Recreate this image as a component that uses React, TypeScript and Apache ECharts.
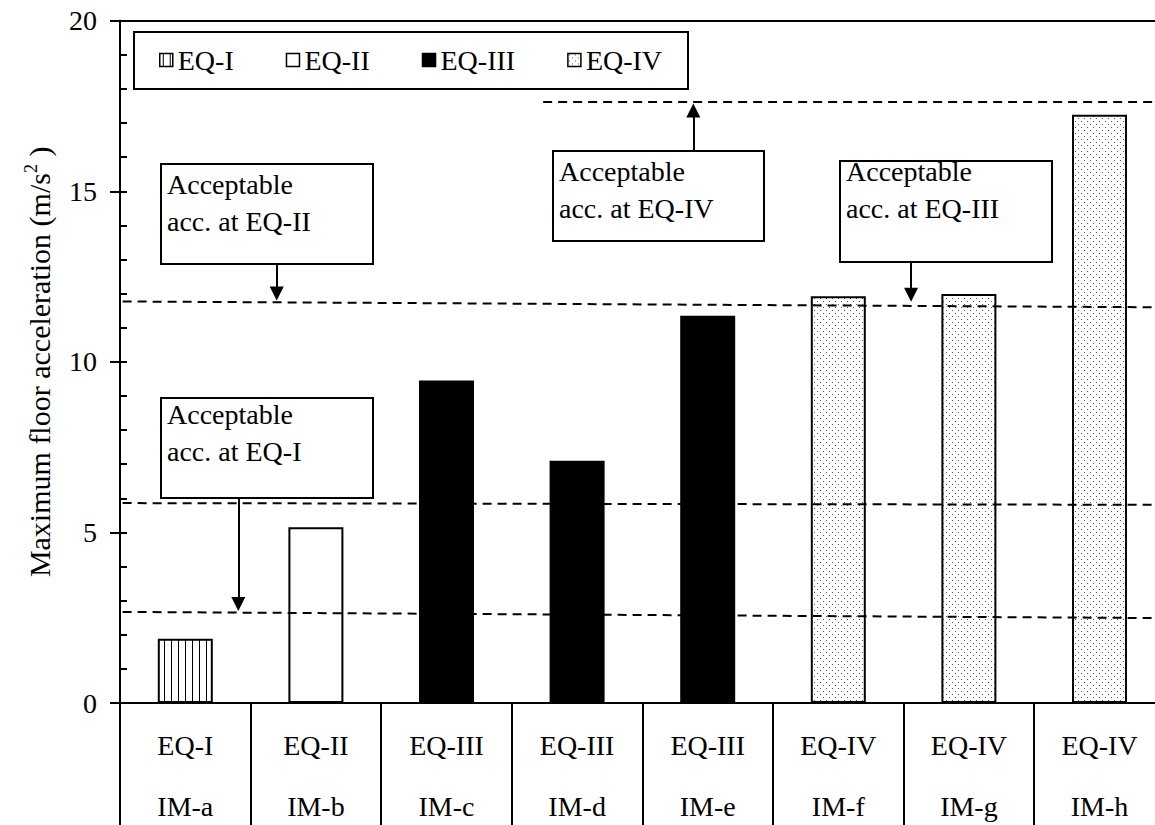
import React, { useEffect, useRef } from 'react';
import * as echarts from 'echarts';

// ---------- data ----------
const imLabels = ['IM-a', 'IM-b', 'IM-c', 'IM-d', 'IM-e', 'IM-f', 'IM-g', 'IM-h'];
const eqLabels = ['EQ-I', 'EQ-II', 'EQ-III', 'EQ-III', 'EQ-III', 'EQ-IV', 'EQ-IV', 'EQ-IV'];
const accValues = [1.88, 5.15, 9.45, 7.1, 11.35, 11.92, 11.99, 17.24];
const levels = ['EQ-I', 'EQ-II', 'EQ-III', 'EQ-IV'];

// acceptable-acceleration limits: [position along the 8 categories, value]
const limitEQI = [[0.02, 2.67], [7.93, 2.49]];
const limitEQII = [[0.02, 5.86], [7.93, 5.81]];
const limitEQIII = [[0.02, 11.77], [7.93, 11.6]];
const limitEQIV = [[3.24, 17.62], [7.93, 17.62]];

// arrows from the note boxes to the limit lines
const arrowEQI = [[0.906, 6.01], [0.906, 2.9]];
const arrowEQII = [[1.2, 12.87], [1.2, 12.0]];
const arrowEQIII = [[6.057, 12.93], [6.057, 11.97]];
const arrowEQIV = [[4.39, 16.2], [4.39, 17.37]];

const noteTexts = ['Acceptable\nacc. at EQ-I', 'Acceptable\nacc. at EQ-II', 'Acceptable\nacc. at EQ-III', 'Acceptable\nacc. at EQ-IV'];

const FONT = '"Liberation Serif", "Times New Roman", serif';

function makeStripe() {
  const c = document.createElement('canvas');
  c.width = 7;
  c.height = 7;
  const ctx = c.getContext('2d')!;
  ctx.fillStyle = '#fff';
  ctx.fillRect(0, 0, 7, 7);
  ctx.fillStyle = '#000';
  ctx.fillRect(3, 0, 1, 7);
  return c;
}

function makeDots() {
  const c = document.createElement('canvas');
  c.width = 6;
  c.height = 6;
  const ctx = c.getContext('2d')!;
  ctx.fillStyle = '#fff';
  ctx.fillRect(0, 0, 6, 6);
  ctx.fillStyle = '#555';
  ctx.fillRect(1, 1, 1, 1);
  ctx.fillRect(4, 4, 1, 1);
  return c;
}

export default function App() {
  const ref = useRef<HTMLDivElement>(null);

  useEffect(() => {
    if (!ref.current) return;
    const chart = echarts.init(ref.current, null, { renderer: 'svg' });

    const fills: Record<string, any> = {
      'EQ-I': { image: makeStripe(), repeat: 'repeat', imageWidth: 7, imageHeight: 7 },
      'EQ-II': '#ffffff',
      'EQ-III': '#000000',
      'EQ-IV': { image: makeDots(), repeat: 'repeat', imageWidth: 6, imageHeight: 6 },
    };

    const barSeries = levels.map((lv) => ({
      name: lv,
      type: 'bar',
      xAxisIndex: 0,
      yAxisIndex: 0,
      barWidth: 55,
      barGap: '-100%',
      data: accValues.map((v, i) => (eqLabels[i] === lv ? v : '-')),
      itemStyle: { color: fills[lv], borderColor: '#000', borderWidth: 2 },
      silent: true,
    }));

    const limitSeries = [limitEQI, limitEQII, limitEQIII, limitEQIV].map((d, i) => ({
      name: 'limit' + i,
      type: 'line',
      xAxisIndex: 1,
      yAxisIndex: 0,
      data: d,
      symbol: 'none',
      silent: true,
      lineStyle: { color: '#000', width: 2, type: [9, 6] },
      z: 3,
    }));

    const arrowSeries = {
      name: 'arrows',
      type: 'lines',
      coordinateSystem: 'cartesian2d',
      xAxisIndex: 1,
      yAxisIndex: 0,
      symbol: ['none', 'triangle'],
      symbolSize: [15, 14],
      silent: true,
      lineStyle: { color: '#000', width: 2, opacity: 1, curveness: 0 },
      data: [arrowEQI, arrowEQII, arrowEQIII, arrowEQIV].map((a) => ({ coords: a })),
      z: 4,
    };

    const boxes = [
      { x: 161, y: 398, w: 212, h: 100, t: noteTexts[0], dy: -2 },
      { x: 161, y: 164, w: 212, h: 100, t: noteTexts[1], dy: 2 },
      { x: 840, y: 161, w: 212, h: 101, t: noteTexts[2], dy: -8 },
      { x: 553, y: 151, w: 211, h: 90, t: noteTexts[3], dy: 2 },
    ];

    const graphics: any[] = [
      {
        type: 'rect',
        shape: { x: 134, y: 32, width: 554, height: 57 },
        style: { fill: 'none', stroke: '#000', lineWidth: 2 },
        z: 10,
        silent: true,
      },
    ];
    boxes.forEach((b) => {
      graphics.push({
        type: 'rect',
        shape: { x: b.x, y: b.y, width: b.w, height: b.h },
        style: { fill: '#fff', stroke: '#000', lineWidth: 2 },
        z: 10,
        silent: true,
      });
      graphics.push({
        type: 'text',
        x: b.x + 6,
        y: b.y + b.dy,
        style: {
          text: b.t,
          font: `28px ${FONT}`,
          fill: '#000',
          lineHeight: 37,
          verticalAlign: 'top',
          align: 'left',
        },
        z: 11,
        silent: true,
      });
    });

    chart.setOption({
      animation: false,
      backgroundColor: '#fff',
      grid: { left: 120, top: 20.7, width: 1044.8, height: 682.3, containLabel: false, outerBoundsMode: 'none' },
      legend: {
        data: levels,
        left: 159,
        top: 46,
        padding: 0,
        itemGap: 52,
        itemWidth: 13,
        itemHeight: 13,
        icon: 'rect',
        selectedMode: false,
        itemStyle: { borderColor: '#000', borderWidth: 1.5 },
        textStyle: { fontSize: 28, fontFamily: FONT, color: '#000' },
      },
      xAxis: [
        {
          type: 'category',
          data: imLabels,
          position: 'bottom',
          axisLine: { show: true, lineStyle: { color: '#000', width: 2 } },
          axisTick: { show: true, interval: 0, length: 125, alignWithLabel: false, lineStyle: { color: '#000', width: 2 } },
          axisLabel: {
            interval: 0,
            margin: 12,
            fontSize: 28,
            lineHeight: 61,
            fontFamily: FONT,
            color: '#000',
            formatter: (_v: string, i: number) => `${eqLabels[i]}\n${imLabels[i]}`,
          },
          splitLine: { show: false },
        },
        {
          type: 'value',
          min: 0,
          max: 8,
          position: 'top',
          axisLine: { show: true, onZero: false, lineStyle: { color: '#000', width: 2 } },
          axisTick: { show: false },
          axisLabel: { show: false },
          splitLine: { show: false },
        },
      ],
      yAxis: [
        {
          type: 'value',
          min: 0,
          max: 20,
          interval: 5,
          position: 'left',
          axisLine: { show: true, lineStyle: { color: '#000', width: 2 } },
          axisTick: { show: true, inside: false, length: 10, lineStyle: { color: '#000', width: 2 } },
          axisLabel: { margin: 23, fontSize: 28, fontFamily: FONT, color: '#000' },
          splitLine: { show: false },
          name: 'Maximum floor acceleration (m/s{sup|2} )',
          nameLocation: 'middle',
          nameGap: 64,
          nameRotate: 90,
          nameTextStyle: {
            fontSize: 30,
            fontFamily: FONT,
            color: '#000',
            rich: {
              sup: { fontSize: 18, fontFamily: FONT, color: '#000', padding: [0, 0, 16, 0] },
            },
          },
        },
        {
          type: 'value',
          min: 0,
          max: 20,
          interval: 1,
          position: 'left',
          axisLine: { show: true, lineStyle: { color: '#000', width: 2 } },
          axisTick: { show: true, inside: true, length: 7, lineStyle: { color: '#000', width: 2 } },
          axisLabel: { show: false },
          splitLine: { show: false },
        },
      ],
      series: [...barSeries, ...limitSeries, arrowSeries],
      graphic: { elements: graphics },
    });

    return () => chart.dispose();
  }, []);

  return (
    <div style={{ position: 'fixed', left: 0, top: 0, width: 1155, height: 825, overflow: 'hidden', background: '#fff' }}>
      <div ref={ref} style={{ width: 1180, height: 825 }} />
    </div>
  );
}
